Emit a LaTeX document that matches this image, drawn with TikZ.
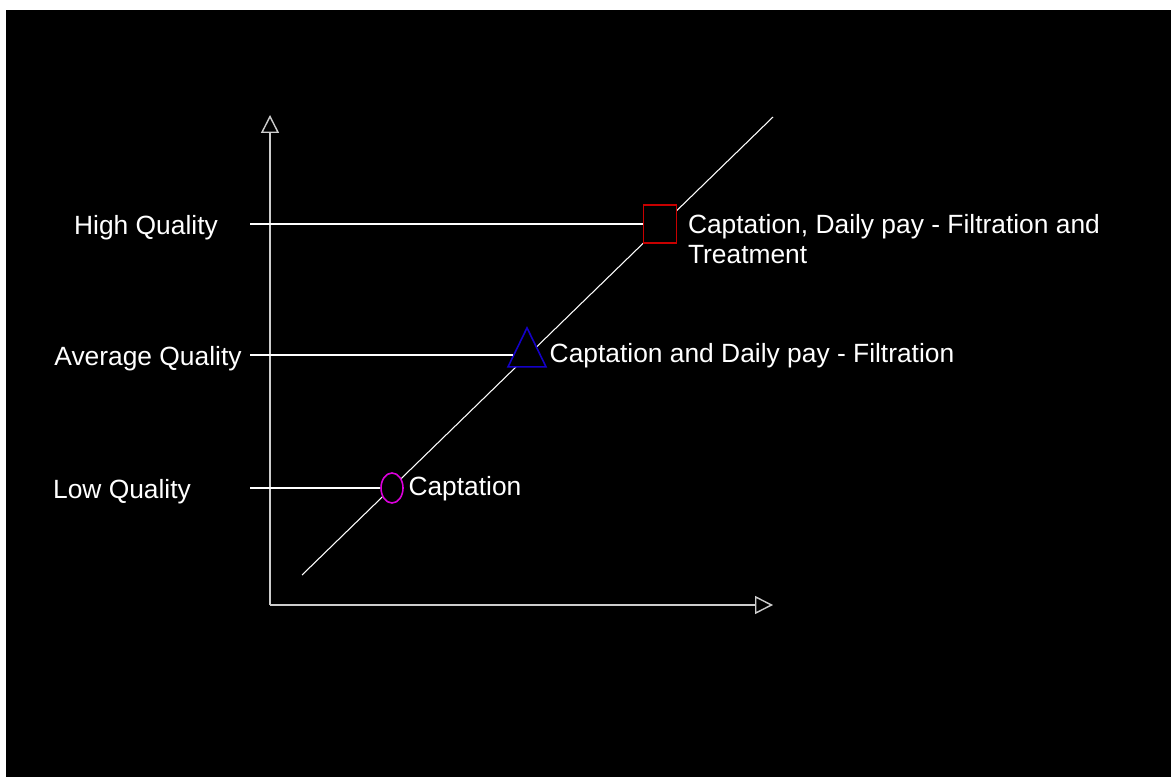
\documentclass[tikz,border=0pt]{standalone}
\usepackage{fontspec}
\setmainfont{Liberation Sans}
\usepackage{xcolor}
\usepackage{tikz}
\usetikzlibrary{shapes.geometric, arrows.meta, positioning, calc}
\definecolor{axisgray}{RGB}{205, 205, 205}
\definecolor{hqred}{RGB}{200, 0, 0}
\definecolor{aqblue}{RGB}{20, 0, 200}
\definecolor{lqpink}{RGB}{220, 0, 220}
\tikzstyle{level} = [text=white, font=\fontsize{7.5}{8.6}\selectfont, inner sep=0pt]
\tikzstyle{note} = [text=white, font=\fontsize{7.5}{8.6}\selectfont, inner sep=0pt, anchor=west, align=left]
\tikzstyle{guide} = [draw=white, line width=0.3pt]
\tikzstyle{axis} = [draw=axisgray, line width=0.4pt, -{Triangle[open, length=0.18cm, width=0.18cm]}]
\tikzstyle{marker} = [fill=black, line width=0.45pt, inner sep=0pt]

\begin{document}
\begin{tikzpicture}[x=0.01cm, y=-0.01cm]

% Frame
\useasboundingbox (0,0) rectangle (1171,777);
\fill[black] (6,10) rectangle (1171,777);

% Axes
\coordinate (origin) at (270,605);
\coordinate (ytip) at (270,115);
\coordinate (xtip) at (773,605);
\draw[axis] (origin) -- (ytip);
\draw[axis] (origin) -- (xtip);

% Diagonal
\coordinate (diag_lo) at (302,575);
\coordinate (diag_hi) at (773,117);
\draw[guide] (diag_lo) -- (diag_hi);

% Quality levels
\node[level] (hq_lbl) at (146,228) {High Quality};
\node[level] (aq_lbl) at (148,359) {Average Quality};
\node[level] (lq_lbl) at (122,492) {Low Quality};

\coordinate (hq_start) at (250,224);
\coordinate (aq_start) at (250,355);
\coordinate (lq_start) at (250,488);

% Markers
\node[marker, draw=hqred, rectangle, minimum width=0.33cm, minimum height=0.38cm] (hq_mark) at (660,224) {};
\node[marker, draw=aqblue, isosceles triangle, shape border rotate=90, isosceles triangle stretches, minimum width=0.38cm, minimum height=0.39cm] (aq_mark) at (527,355) {};
\node[marker, draw=lqpink, ellipse, minimum width=0.22cm, minimum height=0.30cm] (lq_mark) at (392,488) {};

\draw[guide] (hq_start) -- (hq_mark);
\draw[guide] (aq_start) -- (aq_mark);
\draw[guide] (lq_start) -- (lq_mark);

% Descriptions
\node[note, right=0.1cm of hq_mark.east, yshift=-0.15cm] (hq_txt) {Captation, Daily pay - Filtration and\\Treatment};
\node[note] (aq_txt) at (549,356) {Captation and Daily pay - Filtration};
\node[note, right=0.04cm of lq_mark.east, yshift=-0.01cm] (lq_txt) {Captation};

\end{tikzpicture}
\end{document}
